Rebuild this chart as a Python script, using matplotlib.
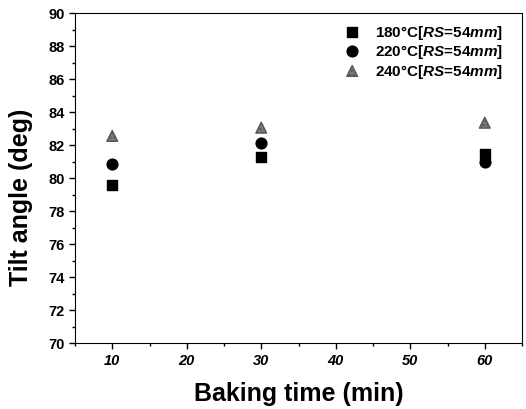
import matplotlib.pyplot as plt
from matplotlib.ticker import MultipleLocator

plt.rcParams['font.family'] = ['Liberation Sans', 'DejaVu Sans']
plt.rcParams['mathtext.fontset'] = 'custom'
plt.rcParams['mathtext.rm'] = 'Liberation Sans:bold'
plt.rcParams['mathtext.it'] = 'Liberation Sans:italic:bold'

# data
baking_time = [10, 30, 60]
tilt_180 = [79.6, 81.25, 81.45]
tilt_220 = [80.85, 82.1, 80.97]
tilt_240 = [82.55, 83.05, 83.35]
labels = [r"180°C$\mathit{[RS}$=$\mathit{54mm]}$",
          r"220°C$\mathit{[RS}$=$\mathit{54mm]}$",
          r"240°C$\mathit{[RS}$=$\mathit{54mm]}$"]

fig = plt.figure(figsize=(5.26, 4.10), dpi=100)
ax = fig.add_axes([75 / 526, 1 - 344 / 410, 447 / 526, 330 / 410])

ax.scatter(baking_time, tilt_180, marker="s", s=55, color="black", label=labels[0])
ax.scatter(baking_time, tilt_220, marker="o", s=60, color="black", label=labels[1])
ax.scatter(baking_time, tilt_240, marker="^", s=60, color="#7a7a7a",
           edgecolor="#555555", hatch="....", label=labels[2])

ax.set_xlim(5, 65)
ax.set_ylim(70, 90)
ax.set_xticks([10, 20, 30, 40, 50, 60])
ax.xaxis.set_minor_locator(MultipleLocator(5))
ax.yaxis.set_major_locator(MultipleLocator(2))
ax.yaxis.set_minor_locator(MultipleLocator(1))
ax.tick_params(which="major", length=4, width=1)
ax.tick_params(which="minor", length=2.5, width=1)
for t in ax.get_xticklabels():
    t.set_fontweight("bold")
    t.set_fontstyle("italic")
    t.set_fontsize(10.5)
for t in ax.get_yticklabels():
    t.set_fontweight("bold")
    t.set_fontsize(10.5)

ax.set_xlabel("Baking time (min)", fontsize=18, fontweight="bold", labelpad=10)
ax.set_ylabel("Tilt angle (deg)", fontsize=18, fontweight="bold")
ax.yaxis.set_label_coords(-0.094, 0.445)

leg = ax.legend(loc="upper left", bbox_to_anchor=(0.603, 0.97), frameon=False,
                fontsize=11, handlelength=1.0, handletextpad=1.0,
                labelspacing=0.1, borderaxespad=0, borderpad=0)
for t in leg.get_texts():
    t.set_fontweight("bold")

fig.savefig("out.png", dpi=100)
